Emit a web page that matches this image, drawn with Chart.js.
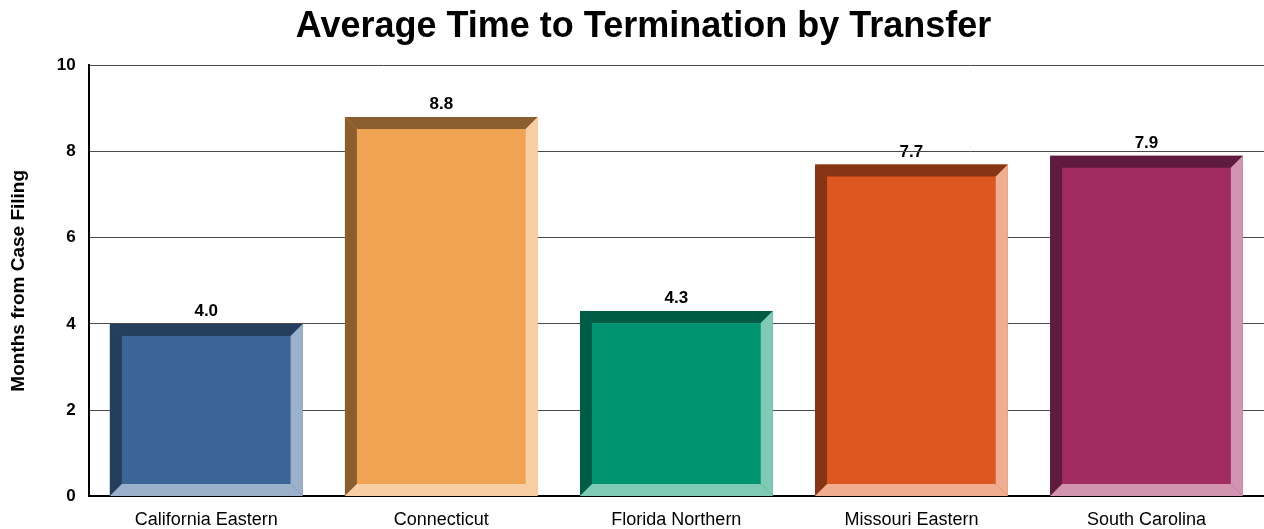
<!DOCTYPE html>
<html><head><meta charset="utf-8">
<script src="https://cdn.jsdelivr.net/npm/chart.js@4"></script>
<style>html,body{margin:0;padding:0;background:#fff}#wrap{width:1264px;height:529px;position:relative}</style>
</head><body><div id="wrap"><canvas id="c"></canvas></div>
<script>
const categories = ["California Eastern","Connecticut","Florida Northern","Missouri Eastern","South Carolina"];
const values = [4.0, 8.8, 4.3, 7.7, 7.9];
const yTicks = [0, 2, 4, 6, 8, 10];
const faceColors = ["#3A6596","#EFA353","#009470","#DC5820","#A12C60"];
const darkColors = ["#243F5E","#8B5E2F","#005C45","#873415","#5F1B3D"];
const lightColors = ["#9BB0CB","#F8CFA4","#7FC9B5","#EEAE8F","#D195B0"];
const FONT = "'Liberation Sans', Arial, sans-serif";

const bevel = {
  id: 'bevel',
  afterLayout(chart) {
    if (chart.titleBlock) { chart.titleBlock.left += 23; }
  },
  beforeDraw(chart) {
    const ctx = chart.ctx; const meta = chart.getDatasetMeta(0);
    ctx.save();
    ctx.font = "bold 17px " + FONT; ctx.fillStyle = "#000"; ctx.textAlign = "center"; ctx.textBaseline = "bottom";
    meta.data.forEach((el, i) => { ctx.fillText(values[i].toFixed(1), el.x, el.y - 4); });
    ctx.restore();
  },
  afterDatasetsDraw(chart) {
    const ctx = chart.ctx; const meta = chart.getDatasetMeta(0); const b = 12;
    ctx.save();
    meta.data.forEach((el, i) => {
      const L = el.x - el.width/2, R = el.x + el.width/2, T = el.y, B = el.base;
      const poly = (pts, c) => { ctx.beginPath(); ctx.moveTo(pts[0][0], pts[0][1]); pts.slice(1).forEach(p => ctx.lineTo(p[0], p[1])); ctx.closePath(); ctx.fillStyle = c; ctx.fill(); };
      poly([[L,T],[R,T],[R-b,T+b],[L+b,T+b]], darkColors[i]);
      poly([[L,T],[L+b,T+b],[L+b,B-b],[L,B]], darkColors[i]);
      poly([[R,T],[R,B],[R-b,B-b],[R-b,T+b]], lightColors[i]);
      poly([[L,B],[R,B],[R-b,B-b],[L+b,B-b]], lightColors[i]);
    });
    ctx.restore();
  }
};

new Chart(document.getElementById('c'), {
  type: 'bar',
  data: { labels: categories, datasets: [{ data: values, backgroundColor: faceColors, borderWidth: 0, categoryPercentage: 0.82, barPercentage: 1.0 }] },
  options: {
    responsive: true, maintainAspectRatio: false, animation: false,
    layout: { padding: { left: 0, right: 0, top: 0, bottom: -15 } },
    plugins: {
      legend: { display: false }, tooltip: { enabled: false },
      title: { display: true, text: "Average Time to Termination by Transfer", color: "#000", font: { family: FONT, size: 36, weight: "bold" }, padding: { top: 5, bottom: 17 } }
    },
    scales: {
      x: {
        grid: { display: false, drawTicks: false, tickLength: 0 },
        border: { display: true, color: "#000", width: 2 },
        ticks: { color: "#000", font: { family: FONT, size: 18 }, padding: 13, maxRotation: 0 }
      },
      y: {
        min: 0, max: 10,
        afterBuildTicks(scale) { scale.ticks = yTicks.map(v => ({ value: v })); },
        grid: { color: "#4a4a4a", lineWidth: 1, drawTicks: false, tickLength: 0 },
        border: { display: true, color: "#000", width: 2 },
        ticks: { color: "#000", font: { family: FONT, size: 17, weight: "bold" }, padding: 13 },
        title: { display: true, text: "Months from Case Filing", color: "#000", font: { family: FONT, size: 19, weight: "bold" }, padding: { top: 7, bottom: 14 } }
      }
    }
  },
  plugins: [bevel]
});
</script></body></html>
